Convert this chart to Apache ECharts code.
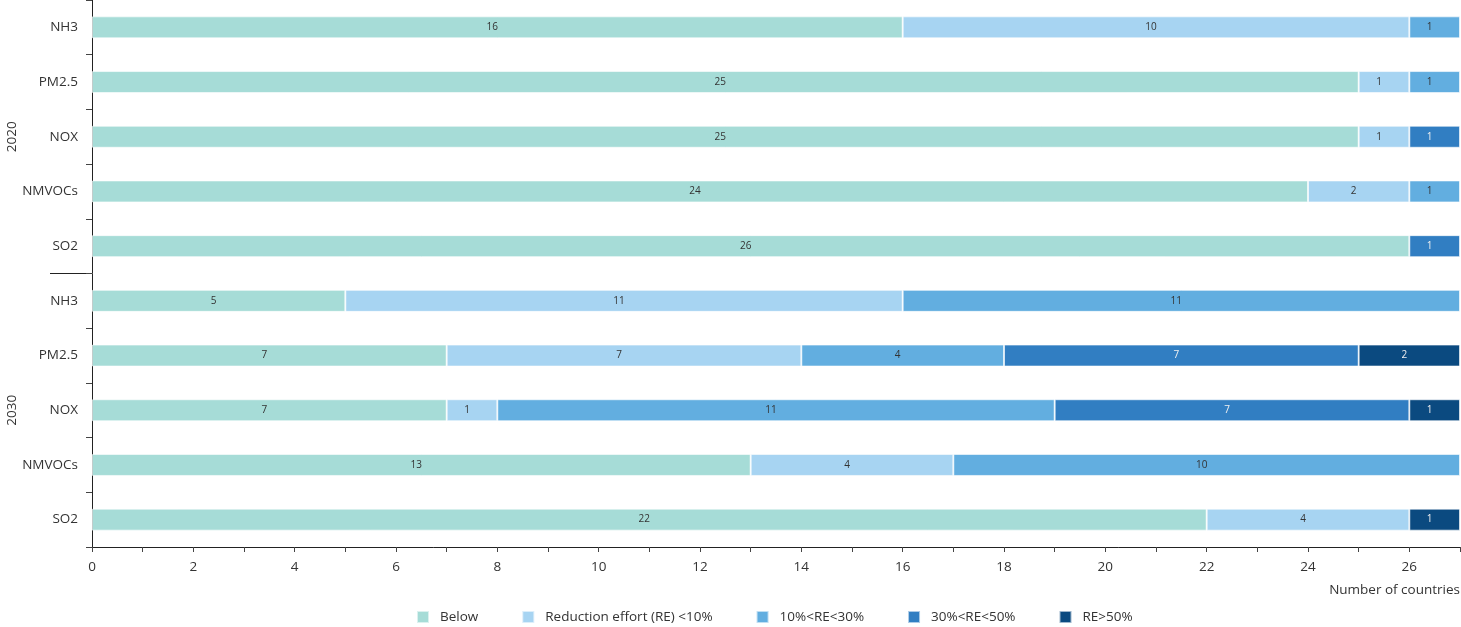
<!DOCTYPE html>
<html>
<head>
<meta charset="utf-8">
<script src="https://cdn.jsdelivr.net/npm/echarts@6/dist/echarts.min.js"></script>
<style>html,body{margin:0;padding:0;background:#fff}#c{width:1461px;height:627px}</style>
</head>
<body>
<div id="c"></div>
<script>
const pollutants = ['NH3', 'PM2.5', 'NOX', 'NMVOCs', 'SO2', 'NH3', 'PM2.5', 'NOX', 'NMVOCs', 'SO2'];
const groups = ['2020', '2030'];
const seriesNames = ['Below', 'Reduction effort (RE) <10%', '10%<RE<30%', '30%<RE<50%', 'RE>50%'];
const below   = [16, 25, 25, 24, 26, 5, 7, 7, 13, 22];
const re10    = [10, 1, 1, 2, 0, 11, 7, 1, 4, 4];
const re10_30 = [1, 1, 0, 1, 0, 11, 4, 11, 10, 0];
const re30_50 = [0, 0, 1, 0, 1, 0, 7, 7, 0, 0];
const re50    = [0, 0, 0, 0, 0, 0, 2, 1, 0, 1];
const xTicks = [0, 2, 4, 6, 8, 10, 12, 14, 16, 18, 20, 22, 24, 26];

const colors = ['#a6dcd7', '#a7d4f2', '#62aee0', '#317ec2', '#0b4a80'];
const labelColors = ['#333', '#333', '#333', '#f0f0f0', '#f0f0f0'];
const values = [below, re10, re10_30, re30_50, re50];
const font = '"Open Sans", "Noto Sans", sans-serif';
const fs = 13.5;

const chart = echarts.init(document.getElementById('c'));
const series = seriesNames.map((name, i) => ({
  name: name,
  type: 'bar',
  stack: 'total',
  yAxisIndex: 0,
  barWidth: 22,
  data: values[i].map(v => v === 0 ? null : v),
  itemStyle: { color: colors[i], borderColor: 'rgba(255,255,255,0.6)', borderWidth: 1 },
  label: { show: true, position: 'inside', offset: [-5, 0], fontSize: 10, color: labelColors[i], fontFamily: font },
  emphasis: { disabled: true }
}));

chart.setOption({
  animation: false,
  textStyle: { fontFamily: font },
  grid: { left: 92, right: 1, top: 0, bottom: 80, containLabel: false, outerBoundsMode: 'none' },
  legend: {
    top: 610, left: 416, padding: 0,
    itemWidth: 12, itemHeight: 12, itemGap: 43,
    icon: 'rect',
    textStyle: { fontSize: fs, color: '#333', fontFamily: font, padding: [0, 0, 0, 6] },
    data: seriesNames
  },
  xAxis: {
    type: 'value', min: 0, max: 27, interval: 1,
    axisLine: { show: true, lineStyle: { color: '#222', width: 1 } },
    axisTick: { show: true, length: 5, lineStyle: { color: '#444' } },
    splitLine: { show: false },
    axisLabel: {
      fontSize: fs, color: '#333', margin: 13,
      formatter: v => xTicks.indexOf(v) >= 0 ? String(v) : ''
    },
    name: 'Number of countries',
    nameLocation: 'end', nameGap: 0,
    nameTextStyle: { fontSize: fs, color: '#333', align: 'right', verticalAlign: 'top', padding: [36, 0, 0, 0] }
  },
  yAxis: [
    {
      type: 'category', inverse: true, data: pollutants,
      axisLine: { show: true, lineStyle: { color: '#222', width: 1 } },
      axisTick: { show: true, length: 6, lineStyle: { color: '#444' } },
      axisLabel: { fontSize: fs, color: '#333', margin: 14 }
    },
    {
      type: 'category', inverse: true, data: groups, position: 'left',
      axisLine: { show: false }, axisTick: { show: false },
      axisLabel: { fontSize: fs, color: '#333', rotate: 90, margin: 73 }
    }
  ],
  series: series
});

// separator line between the two year groups, positioned from the axis scale
const yMid = (chart.convertToPixel({ yAxisIndex: 0 }, 4) + chart.convertToPixel({ yAxisIndex: 0 }, 5)) / 2;
const x0 = chart.convertToPixel({ xAxisIndex: 0 }, 0);
chart.setOption({
  graphic: [{
    type: 'line', silent: true,
    shape: { x1: x0 - 42, y1: yMid, x2: x0, y2: yMid },
    style: { stroke: '#222', lineWidth: 1 }
  }]
});
</script>
</body>
</html>
